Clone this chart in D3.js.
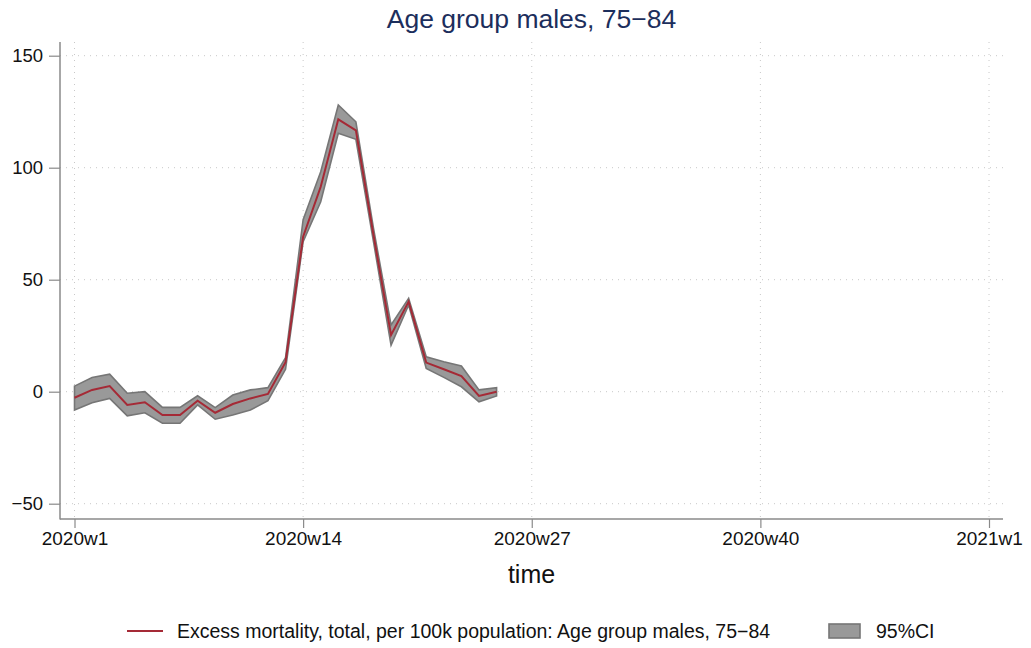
<!DOCTYPE html>
<html>
<head>
<meta charset="utf-8">
<script src="https://cdn.jsdelivr.net/npm/d3@7"></script>
<style>
  body { margin: 0; background: #fff; }
  svg { display: block; font-family: "Liberation Sans", Arial, Helvetica, sans-serif; }
</style>
</head>
<body>
<svg id="chart" width="1031" height="648"></svg>
<script>
// Data (week index: 1 = 2020w1)
const weeks = [1,2,3,4,5,6,7,8,9,10,11,12,13,14,15,16,17,18,19,20,21,22,23,24,25];
const excess = [-2.7,0.8,2.5,-5.9,-4.7,-10.4,-10.4,-4.0,-9.4,-5.5,-3.0,-1.0,13.2,69.2,91.5,121.6,116.7,70.0,25.3,40.2,13.0,10.0,7.0,-1.9,0.0];
const upper  = [2.5,6.3,7.8,-0.7,0.0,-7.0,-7.0,-1.8,-7.1,-1.5,0.8,1.8,15.2,76.8,98.2,128.0,120.5,73.0,29.8,41.7,15.6,13.4,11.5,0.8,1.8];
const lower  = [-8.2,-4.9,-3.0,-10.8,-9.4,-14.1,-14.1,-5.9,-12.3,-10.4,-8.2,-4.0,10.0,67.0,84.8,115.4,112.7,67.0,20.8,38.7,10.4,6.4,2.2,-4.5,-1.9];
const xTickVals = [1,14,27,40,53];
const xTickLabels = ["2020w1","2020w14","2020w27","2020w40","2021w1"];
const yTickVals = [-50,0,50,100,150];
const titleText = "Age group males, 75\u221284";
const xTitle = "time";
const legendLine = "Excess mortality, total, per 100k population: Age group males, 75\u221284";
const legendBand = "95%CI";

const svg = d3.select("#chart");
const plot = {left: 60, right: 1003, top: 42, bottom: 519};

const x = d3.scaleLinear().domain([1, 53]).range([74.5, 989]);
const y = d3.scaleLinear().domain([-50, 150]).range([503.7, 55.7]);

const gridColor = "#c8c8c8";
const axisColor = "#8a8a8a";
const ff = "Liberation Sans, Arial, sans-serif";

// gridlines
svg.append("g").selectAll("line").data(yTickVals).join("line")
  .attr("x1", plot.left).attr("x2", plot.right)
  .attr("y1", d => y(d)).attr("y2", d => y(d))
  .attr("stroke", gridColor).attr("stroke-width", 1).attr("stroke-dasharray", "1,5");
svg.append("g").selectAll("line").data(xTickVals).join("line")
  .attr("y1", plot.top).attr("y2", plot.bottom)
  .attr("x1", d => x(d)).attr("x2", d => x(d))
  .attr("stroke", gridColor).attr("stroke-width", 1).attr("stroke-dasharray", "1,5");

// band
const rows = weeks.map((w, i) => ({w, v: excess[i], hi: upper[i], lo: lower[i]}));
svg.append("path").datum(rows)
  .attr("d", d3.area().x(d => x(d.w)).y0(d => y(d.lo)).y1(d => y(d.hi)))
  .attr("fill", "#999999").attr("stroke", "#767676").attr("stroke-width", 1.6)
  .attr("stroke-linejoin", "miter");

// line
svg.append("path").datum(rows)
  .attr("d", d3.line().x(d => x(d.w)).y(d => y(d.v)))
  .attr("fill", "none").attr("stroke", "#a52a36").attr("stroke-width", 2);

// axes
const yAxis = d3.axisLeft(y).tickValues(yTickVals).tickSize(11).tickPadding(6)
  .tickFormat(d => d < 0 ? "\u2212" + Math.abs(d) : d);
const gy = svg.append("g").attr("transform", `translate(${plot.left},0)`).call(yAxis);
gy.select(".domain").remove();
gy.selectAll(".tick line").attr("stroke", axisColor).attr("stroke-width", 1.2);
gy.selectAll(".tick text").attr("font-size", 18.5).attr("fill", "#111").attr("font-family", ff);

const xAxis = d3.axisBottom(x).tickValues(xTickVals).tickSize(9).tickPadding(4)
  .tickFormat((d, i) => xTickLabels[i]);
const gx = svg.append("g").attr("transform", `translate(0,${plot.bottom})`).call(xAxis);
gx.select(".domain").remove();
gx.selectAll(".tick line").attr("stroke", axisColor).attr("stroke-width", 1.2);
gx.selectAll(".tick text").attr("font-size", 19).attr("fill", "#111").attr("font-family", ff);

// axis lines
svg.append("line").attr("x1", plot.left).attr("x2", plot.left).attr("y1", plot.top).attr("y2", plot.bottom + 0.5)
  .attr("stroke", axisColor).attr("stroke-width", 1.5);
svg.append("line").attr("x1", plot.left).attr("x2", plot.right).attr("y1", plot.bottom).attr("y2", plot.bottom)
  .attr("stroke", axisColor).attr("stroke-width", 1.5);

// title
svg.append("text").attr("x", (plot.left + plot.right) / 2).attr("y", 28)
  .attr("text-anchor", "middle").attr("font-size", 26.5).attr("fill", "#1c2e5c").text(titleText);

// x axis title
svg.append("text").attr("x", (plot.left + plot.right) / 2).attr("y", 583)
  .attr("text-anchor", "middle").attr("font-size", 25).attr("fill", "#111").text(xTitle);

// legend
const ly = 631;
svg.append("line").attr("x1", 127).attr("x2", 163).attr("y1", ly).attr("y2", ly)
  .attr("stroke", "#a52a36").attr("stroke-width", 2);
svg.append("text").attr("x", 177).attr("y", 638).attr("font-size", 19.5).attr("fill", "#111").text(legendLine);
svg.append("rect").attr("x", 829).attr("y", ly - 7).attr("width", 31).attr("height", 14)
  .attr("fill", "#999999").attr("stroke", "#767676").attr("stroke-width", 1.6);
svg.append("text").attr("x", 876).attr("y", 638).attr("font-size", 19.5).attr("fill", "#111").text(legendBand);
</script>
</body>
</html>
